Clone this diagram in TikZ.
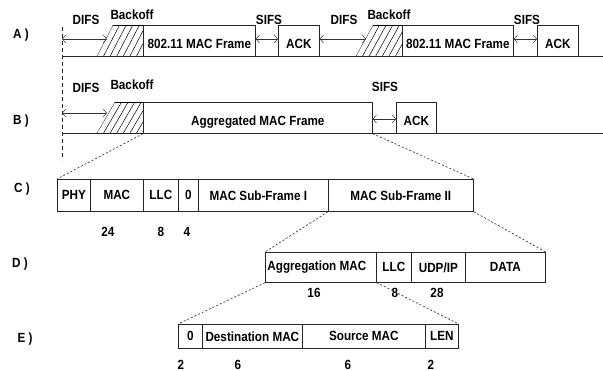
\documentclass[tikz,border=0pt]{standalone}
\usepackage{fontspec}
\setmainfont{Liberation Sans}
\newfontfamily\narrowsans[FakeStretch=0.88]{Liberation Sans}
\usetikzlibrary{arrows.meta}
\begin{document}
\begin{tikzpicture}[x=1pt,y=-1pt,
  lbl/.style={font=\narrowsans\bfseries\fontsize{13.3}{14}\selectfont, inner sep=0pt},
  cell/.style={draw=black!85, line width=0.7pt, anchor=north west, inner sep=0pt,
    font=\narrowsans\bfseries\fontsize{13.3}{14}\selectfont},
  frm/.style={cell, minimum height=31pt, text height=14.5pt, text depth=0pt},
  base/.style={draw=black!85, line width=0.8pt},
  gap/.style={draw=black!80, line width=0.5pt, {Straight Barb[length=3.5pt,width=8pt]}-{Straight Barb[length=3.5pt,width=8pt]}},
  hatch/.style={draw=black, line width=0.5pt},
  zoomline/.style={draw=black!85, line width=0.6pt, dash pattern=on 2pt off 2pt},
  vdash/.style={draw=black!85, line width=0.6pt, dash pattern=on 4pt off 3pt}
]
\useasboundingbox (0,0) rectangle (603,371);

% row labels
\node[lbl] (la) at (21,35) {A )};
\node[lbl] (lb) at (21,121) {B )};
\node[lbl] (lc) at (22,189) {C )};
\node[lbl] (ld) at (20,264) {D )};
\node[lbl] (le) at (25,339) {E )};

% vertical dashed reference line
\coordinate (vtop) at (62,27);
\coordinate (vbot) at (62,160);
\draw[vdash] (vtop) -- (vbot);

% ---------- Row A ----------
\coordinate (a0) at (62,56);
\coordinate (a1) at (603,56);
\draw[base] (a0) -- (a1);
\node[frm, minimum width=112pt] (fa1) at (143,25) {802.11 MAC Frame};
\node[frm, minimum width=41pt] (acka1) at (278,25) {ACK};
\node[frm, minimum width=111pt] (fa2) at (402,25) {802.11 MAC Frame};
\node[frm, minimum width=41pt] (acka2) at (537,25) {ACK};
% hatches
\begin{scope}
  \clip (97,56) -- (113,25) -- (143,25) -- (143,56) -- cycle;
  \foreach \i in {0,...,7} \draw[hatch] (97+\i*6.6,56) -- ++(16,-31);
\end{scope}
\draw[hatch] (113,25) -- (143,25);
\begin{scope}
  \clip (356,56) -- (373,25) -- (402,25) -- (402,56) -- cycle;
  \foreach \i in {0,...,7} \draw[hatch] (356+\i*6.6,56) -- ++(17,-31);
\end{scope}
\draw[hatch] (373,25) -- (402,25);
% gaps
\coordinate (da1s) at (62,39);
\coordinate (da1e) at (107,39);
\draw[gap] (da1s) -- (da1e);
\draw[gap] (fa1.east |- da1s) -- (acka1.west |- da1s);
\coordinate (da2e) at (366,39);
\draw[gap] (acka1.east |- da1s) -- (da2e);
\draw[gap] (fa2.east |- da1s) -- (acka2.west |- da1s);
% labels
\node[lbl] (difsa1) at (86,20) {DIFS};
\node[lbl] (backa1) at (132,15) {Backoff};
\node[lbl] (sifsa1) at (269,20) {SIFS};
\node[lbl] (difsa2) at (344,20) {DIFS};
\node[lbl] (backa2) at (389,15) {Backoff};
\node[lbl] (sifsa2) at (527,20) {SIFS};

% ---------- Row B ----------
\coordinate (b0) at (62,133);
\coordinate (b1) at (603,133);
\draw[base] (b0) -- (b1);
\node[frm, minimum width=229pt] (aggb) at (143,102) {Aggregated MAC Frame};
\node[frm, minimum width=40pt] (ackb) at (396,102) {ACK};
\begin{scope}
  \clip (97,133) -- (115,102) -- (143,102) -- (143,133) -- cycle;
  \foreach \i in {0,...,7} \draw[hatch] (97+\i*6.6,133) -- ++(18,-31);
\end{scope}
\draw[hatch] (115,102) -- (143,102);
\coordinate (db1s) at (62,113);
\coordinate (db1e) at (107,113);
\draw[gap] (db1s) -- (db1e);
\coordinate (sb) at (0,119);
\draw[gap] (aggb.east |- sb) -- (ackb.west |- sb);
\node[lbl] (difsb) at (86,88) {DIFS};
\node[lbl] (backb) at (132,85) {Backoff};
\node[lbl] (sifsb) at (385,87) {SIFS};

% ---------- Row C ----------
\node[cell, minimum height=32pt, minimum width=33pt] (phy) at (57,179) {PHY};
\node[cell, minimum height=32pt, minimum width=53pt] (macc) at (90,179) {MAC};
\node[cell, minimum height=32pt, minimum width=35pt] (llcc) at (143,179) {LLC};
\node[cell, minimum height=32pt, minimum width=20pt] (zeroc) at (178,179) {0};
\node[cell, minimum height=32pt, minimum width=130pt] (sf1) at (198,179) {MAC Sub-Frame I\hspace*{10pt}};
\node[cell, minimum height=32pt, minimum width=145pt] (sf2) at (328,179) {MAC Sub-Frame II};
\node[lbl] (nc1) at (108,232) {24};
\node[lbl] (nc2) at (161,232) {8};
\node[lbl] (nc3) at (187,232) {4};

% ---------- Row D ----------
\node[cell, minimum height=30pt, minimum width=111pt] (aggmac) at (265,252) {Aggregation MAC\hspace*{8pt}};
\node[cell, minimum height=30pt, minimum width=35pt] (llcd) at (376,252) {LLC};
\node[cell, minimum height=30pt, minimum width=54pt] (udp) at (411,252) {UDP/IP};
\node[cell, minimum height=30pt, minimum width=80pt] (data) at (465,252) {DATA};
\node[lbl] (nd1) at (314,293) {16};
\node[lbl] (nd2) at (395,293) {8};
\node[lbl] (nd3) at (437,293) {28};

% ---------- Row E ----------
\node[cell, minimum height=24pt, minimum width=24pt] (zeroe) at (178,324) {0};
\node[cell, minimum height=24pt, minimum width=100pt] (dest) at (202,324) {Destination MAC};
\node[cell, minimum height=24pt, minimum width=123pt] (src) at (302,324) {Source MAC};
\node[cell, minimum height=24pt, minimum width=33pt] (len) at (425,324) {LEN};
\node[lbl] (ne1) at (181,365) {2};
\node[lbl] (ne2) at (238,365) {6};
\node[lbl] (ne3) at (348,365) {6};
\node[lbl] (ne4) at (431,365) {2};

% ---------- zoom connectors ----------
\draw[zoomline] (aggb.south west) -- (phy.north west);
\draw[zoomline] (aggb.south east) -- (sf2.north east);
\draw[zoomline] (sf2.south west) -- (aggmac.north west);
\draw[zoomline] (sf2.south east) -- (data.north east);
\draw[zoomline] (aggmac.south west) -- (zeroe.north west);
\draw[zoomline] (aggmac.south east) -- (len.north east);
\end{tikzpicture}
\end{document}
